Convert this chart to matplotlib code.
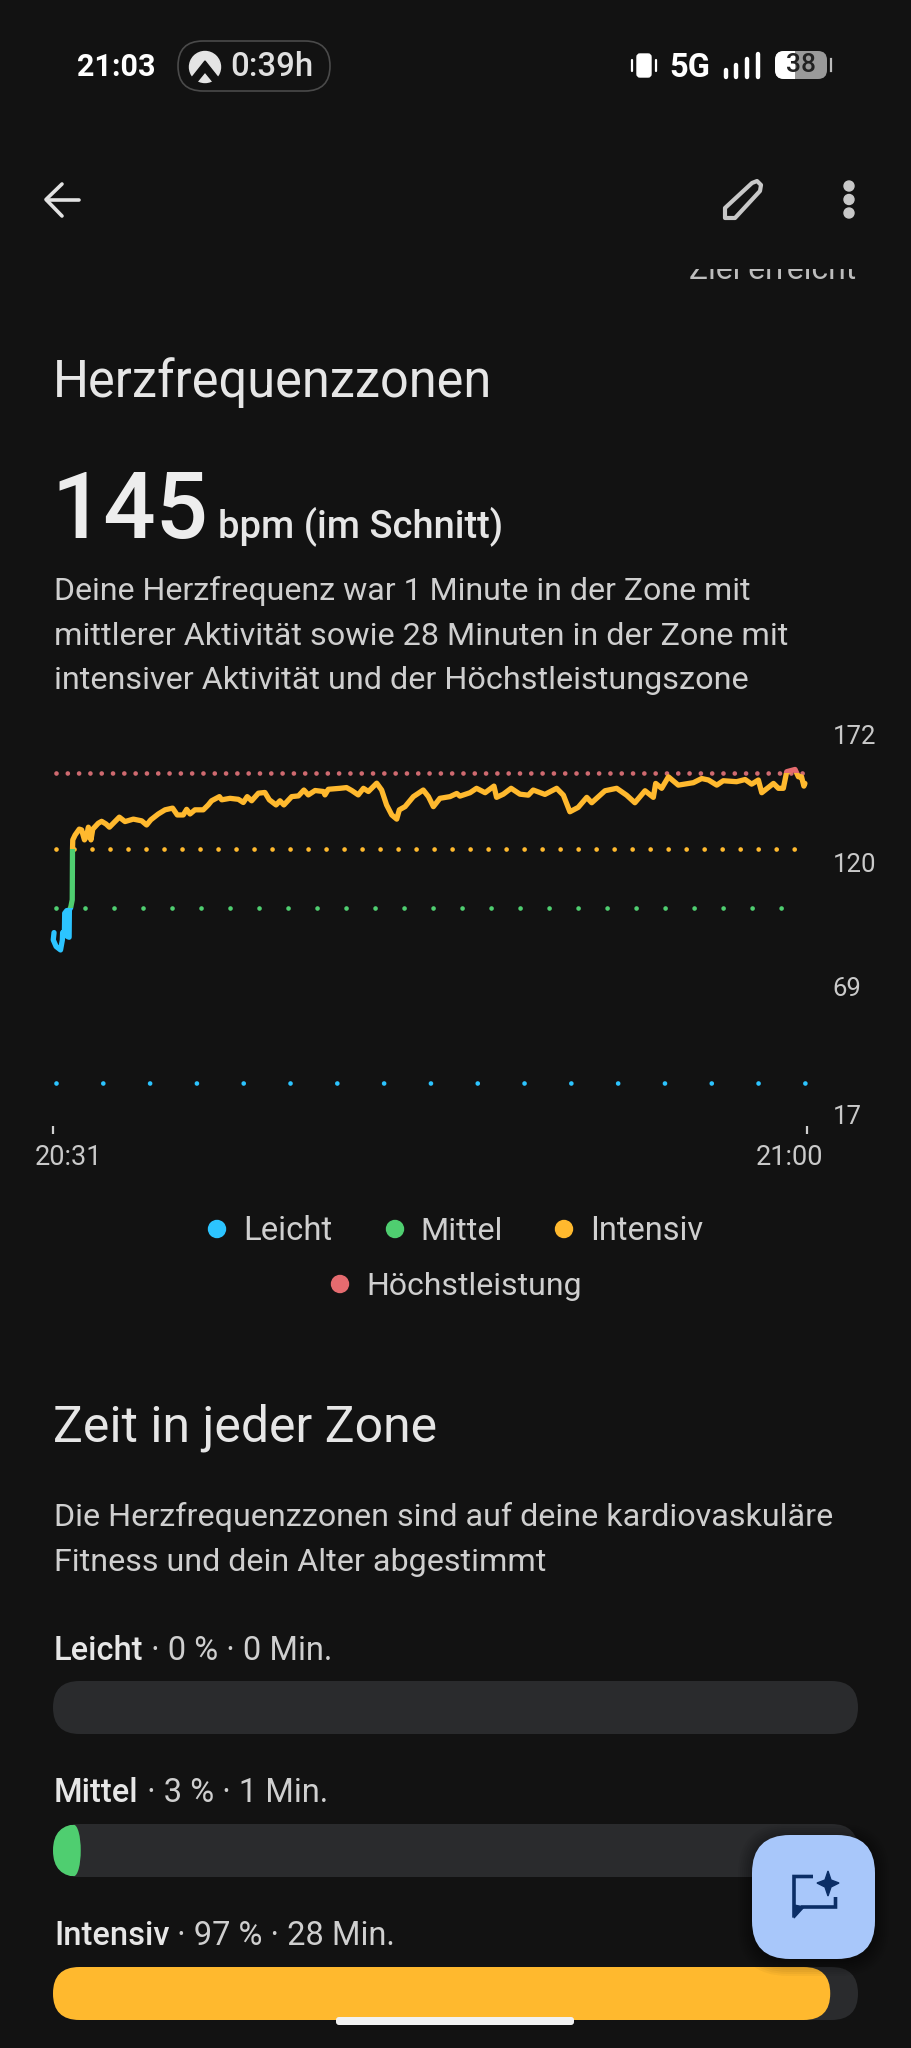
import numpy as np
import matplotlib
matplotlib.use("Agg")
import matplotlib.pyplot as plt
from matplotlib.patches import FancyBboxPatch, Rectangle, Circle, Ellipse, Polygon
from matplotlib.transforms import ScaledTranslation

plt.rcParams['font.family'] = ['Roboto', 'DejaVu Sans']

# ---------- data ----------
minutes = [.04,.01,.12,.29,.36,.37,.44,.45,.53,.55,.62,.63,.68,.74,.75,.76,.85,1.01,1.10,1.21,1.29,1.36,1.46,1.53,1.74,1.87,
           2.04,2.17,2.32,2.55,2.77,3.09,3.41,3.60,3.76,4.05,4.31,4.60,4.78,5.01,5.14,5.27,5.46,5.78,5.97,6.10,6.40,6.49,
           6.81,7.13,7.32,7.47,7.64,7.90,8.15,8.32,8.58,8.73,8.88,9.18,9.44,9.65,9.82,10.08,10.40,10.46,10.59,11.04,11.29,
           11.49,11.74,11.94,12.13,12.45,12.64,12.83,13.03,13.22,13.32,13.54,13.86,14.24,14.44,14.63,14.88,15.27,15.53,
           15.65,16.04,16.29,16.62,16.96,17.06,17.32,17.62,17.96,18.28,18.47,18.92,19.37,19.63,19.88,20.20,20.53,20.72,
           21.23,21.68,22.06,22.38,22.77,23.09,23.18,23.41,23.67,24.05,24.63,24.95,25.21,25.53,25.78,26.29,26.62,26.87,
           27.13,27.26,27.71,27.90,28.09,28.22,28.54,28.67,28.79,28.88,28.92]
bpm = [91.2,88.2,85.5,84.1,88.2,91.2,91.6,99.1,100.2,89.6,89.3,100.5,101.4,104.6,125.0,129.1,131.1,133.5,133.2,129.1,130.5,134.3,129.1,133.5,135.9,136.7,
       135.6,134.3,135.9,138.4,136.6,137.6,136.9,135.2,137.3,139.7,141.4,142.1,139.3,139.3,141.6,139.7,141.4,141.4,143.4,145.1,146.8,145.5,
       146.1,145.7,144.4,146.8,145.1,148.2,148.5,145.5,143.4,145.1,143.4,146.8,147.1,149.5,147.5,149.3,148.9,147.5,149.8,150.2,150.5,
       149.3,147.5,150.2,148.9,152.3,149.5,143.4,139.3,137.6,141.4,142.7,146.8,149.5,146.8,142.7,146.1,146.8,148.1,
       147.0,148.4,150.2,148.4,151.1,146.5,147.8,150.2,147.8,147.4,149.5,147.7,150.2,147.4,140.6,142.4,146.5,144.3,
       149.2,150.2,147.4,144.3,149.2,146.5,152.2,150.2,154.9,151.5,152.5,154.2,153.6,151.5,153.3,152.9,153.8,151.9,
       153.6,148.4,152.2,150.2,150.2,157.0,157.9,154.9,154.9,151.1,152.2]

zone_names = ['Leicht', 'Mittel', 'Intensiv', 'Höchstleistung']
zone_floor = [29.7, 101.4, 125.4, 156.4]
zone_colors = ['#2CC4FF', '#4FCE70', '#FFB92E', '#E56B6F']
zone_dot_colors = ['#2CC4FF', '#4FCE70', '#FFB92E', '#CF6A70']
zone_dot_end = [29.1, 28.4, 28.7, 28.9]
zone_dot_gap_px = [46.8, 29.0, 18.0, 11.3]

yticks = [17, 69, 120, 172]
xtick_pos = [0, 29]
xtick_labels = ['20:31', '21:00']

bar_pct = [0, 3, 97]
bar_minutes = [0, 1, 28]
total_minutes = 29

BG = '#121212'
TXT = '#E6E6E6'
TXT2 = '#CFCFCF'
W, H = 912, 2048

fig = plt.figure(figsize=(W/100, H/100), dpi=100, facecolor=BG)
rend = fig.canvas.get_renderer()

def rect_px(x0, y0, x1, y1):
    return [x0/W, 1-y1/H, (x1-x0)/W, (y1-y0)/H]

def overlay(z):
    a = fig.add_axes([0, 0, 1, 1], zorder=z)
    a.set_xlim(0, W); a.set_ylim(H, 0); a.axis('off'); a.patch.set_alpha(0)
    return a

bg = overlay(0)
top = overlay(10)

def put(a, s, x, base, size, width=None, color=TXT, weight='normal', **kw):
    t = a.text(x, base, s, fontsize=size, color=color, fontweight=weight, va='baseline', ha='left', **kw)
    if width:
        w = t.get_window_extent(rend).width
        t.set_fontsize(size*width/w)
    return t

# ---------- status bar ----------
put(bg, '21:03', 77, 76, 24, width=79, color='#FFFFFF', weight='bold')
bg.add_patch(FancyBboxPatch((178, 41), 152, 50, boxstyle='round,pad=0,rounding_size=25', fc='none', ec='#4A4A4A', lw=1.2))
bg.add_patch(Circle((205, 67), 15.5, color='#E4E4E4'))
bg.add_patch(Polygon([(205, 61), (190, 80), (196, 83), (205, 72), (214, 83), (220, 80)], closed=True, color=BG))
put(bg, '0:39h', 230, 76, 24, width=83, color='#E0E0E0', weight='medium')
bg.add_patch(FancyBboxPatch((637, 54), 14, 23, boxstyle='round,pad=0,rounding_size=3', color='#FFFFFF'))
for xv in (632, 656):
    bg.plot([xv, xv], [60, 71], color='#FFFFFF', lw=1.6, solid_capstyle='round')
put(bg, '5G', 669, 77, 25, width=41, color='#FFFFFF', weight='bold')
for xv, yv in zip((726, 736, 747, 758), (70, 65, 59, 54)):
    bg.plot([xv, xv], [yv, 77], color='#FFFFFF', lw=3.2, solid_capstyle='round')
bg.add_patch(FancyBboxPatch((775, 51), 52, 28, boxstyle='round,pad=0,rounding_size=9', fc='#9A9A9A', ec='none'))
clip_r = Rectangle((770, 45), 25, 40, transform=bg.transData)
wb = FancyBboxPatch((775, 51), 52, 28, boxstyle='round,pad=0,rounding_size=9', fc='#FFFFFF', ec='none')
bg.add_patch(wb); wb.set_clip_path(clip_r)
bg.text(801, 65.5, '38', fontsize=19, color='#222222', ha='center', va='center', fontweight='medium')
bg.plot([831.5, 831.5], [59, 71], color='#BBBBBB', lw=1.6)

# ---------- toolbar ----------
bg.plot([79, 47], [199.5, 199.5], color='#E2E2E2', lw=2.6, solid_capstyle='round')
bg.plot([62, 46, 62], [184, 199.5, 216], color='#E2E2E2', lw=2.6, solid_capstyle='round', solid_joinstyle='round')
bg.add_patch(Polygon([(725, 218), (725, 208), (752, 183), (757, 181), (761, 185), (760, 191), (735, 218)], closed=True,
                     fc='none', ec='#C8C8C8', lw=3.0, joinstyle='round'))
for yv in (186, 199.5, 213):
    bg.add_patch(Circle((849, yv), 5, color='#C8C8C8'))

# ---------- clipped scroll text ----------
t = put(bg, 'Ziel erreicht', 689, 279, 22, width=167, color='#BDBDBD')
t.set_clip_on(True)
t.set_clip_path(Rectangle((680, 268.5), 190, 30, transform=bg.transData))

# ---------- headings ----------
put(bg, 'Herzfrequenzzonen', 53, 397, 32, width=440)
put(bg, '145', 51, 538, 70, width=157, color='#EDEDED', weight='medium')
put(bg, 'bpm (im Schnitt)', 218, 537, 26, width=285, weight='medium')
put(bg, 'Deine Herzfrequenz war 1 Minute in der Zone mit', 54, 600, 22, width=696, color=TXT2)
put(bg, 'mittlerer Aktivität sowie 28 Minuten in der Zone mit', 54, 645, 22, width=733, color=TXT2)
put(bg, 'intensiver Aktivität und der Höchstleistungszone', 54, 689, 22, width=694, color=TXT2)

# ---------- heart-rate chart ----------
y_low = 12.1
ax = fig.add_axes(rect_px(53, 735, 807, 1126), zorder=3)
ax.set_xlim(0, 29); ax.set_ylim(y_low, 172)
ax.patch.set_alpha(0)
for s in ax.spines.values():
    s.set_visible(False)

for floor, col, end, gap in zip(zone_floor, zone_dot_colors, zone_dot_end, zone_dot_gap_px):
    lw = 3.4
    ax.plot([0.1, end], [floor, floor], color=col, lw=lw, dash_capstyle='round',
            linestyle=(0, (0.001, gap*0.72/lw)), zorder=2, clip_on=False)

bands = [-10] + zone_floor[1:] + [200]
for i, col in enumerate(zone_colors):
    ln, = ax.plot(minutes, bpm, color=col, lw=3.8, solid_joinstyle='round', solid_capstyle='round', zorder=3, clip_on=True)
    ln.set_clip_path(Rectangle((-1, bands[i]), 31, bands[i+1]-bands[i], transform=ax.transData))

ax.set_yticks(yticks); ax.set_yticklabels([str(v) for v in yticks])
ax.yaxis.tick_right()
ax.tick_params(axis='y', length=0, pad=18.5, labelsize=18.5, labelcolor='#C9C9C9')
ax.set_xticks(xtick_pos); ax.set_xticklabels(xtick_labels)
ax.tick_params(axis='x', length=5.8, width=1.6, color='#CFCFCF', pad=7, labelsize=19.5, labelcolor='#C9C9C9')
labs = ax.get_xticklabels()
labs[0].set_transform(labs[0].get_transform() + ScaledTranslation(15.5/100, 0, fig.dpi_scale_trans))
labs[1].set_transform(labs[1].get_transform() + ScaledTranslation(-17/100, 0, fig.dpi_scale_trans))

# ---------- zone legend ----------
legend_dot = [(217, 1229), (395, 1229), (564, 1229), (340, 1284)]
legend_txt = [(243, 1240, 89), (420, 1240, 82), (590, 1240, 113), (366, 1295, 215)]
for name, col, d, tx in zip(zone_names, zone_colors, legend_dot, legend_txt):
    bg.add_patch(Circle(d, 8.5, color=col))
    put(bg, name, tx[0], tx[1], 22, width=tx[2], color=TXT2)

# ---------- time in zone ----------
put(bg, 'Zeit in jeder Zone', 53, 1441, 32, width=384)
put(bg, 'Die Herzfrequenzzonen sind auf deine kardiovaskuläre', 54, 1526, 22, width=778, color=TXT2)
put(bg, 'Fitness und dein Alter abgestimmt', 54, 1571, 22, width=492, color=TXT2)

label_base = [1660, 1802, 1945]
bar_top = [1681, 1824, 1967]
bar_h = 53
bar_w = 805
for name, pct, mins, base, ytop, col in zip(zone_names[:3], bar_pct, bar_minutes, label_base, bar_top, zone_colors[:3]):
    t1 = put(bg, name, 54, base, 23.5, color=TXT, weight='medium')
    x2 = t1.get_window_extent(rend).x1
    bg.text(x2, base, f' · {pct} % · {mins} Min.', fontsize=23.5, color=TXT2, va='baseline', ha='left')

    a = fig.add_axes(rect_px(53, ytop, 53+bar_w, ytop+bar_h), zorder=4)
    a.set_xlim(0, total_minutes); a.set_ylim(0, 1); a.axis('off')
    rs = (bar_h/2)/bar_w*total_minutes
    asp = (1/bar_h)/(total_minutes/bar_w)
    track = FancyBboxPatch((0, 0), total_minutes, 1, boxstyle=f'round,pad=0,rounding_size={rs}', mutation_aspect=asp, fc='#2A2B2D', ec='none', clip_on=False)
    a.add_patch(track)
    if mins >= 2*rs:
        a.add_patch(FancyBboxPatch((0, 0), mins, 1, boxstyle=f'round,pad=0,rounding_size={rs}', mutation_aspect=asp, fc=col, ec='none', clip_on=False))
    elif mins > 0:
        e = Ellipse((mins-0.25, 0.5), 0.5, 0.97, fc=col, ec='none')
        r = Rectangle((0, 0.015), mins-0.25, 0.97, fc=col, ec='none')
        a.add_patch(r); a.add_patch(e)
        r.set_clip_path(track); e.set_clip_path(track)

# ---------- floating button ----------
for i in range(8):
    top.add_patch(FancyBboxPatch((752-2*i, 1835-2*i+3), 123+4*i, 124+4*i, boxstyle=f'round,pad=0,rounding_size={36+2*i}',
                                 fc='#000000', ec='none', alpha=0.035))
top.add_patch(FancyBboxPatch((752, 1835), 123, 124, boxstyle='round,pad=0,rounding_size=38', fc='#A8C7FA', ec='none'))
icon = '#0B2E66'
top.plot([813, 794, 794, 802, 835.5, 835.5], [1876.5, 1876.5, 1914, 1907, 1907, 1897], color=icon, lw=2.6,
         solid_joinstyle='miter', solid_capstyle='butt')
top.add_patch(Polygon([(794, 1905), (794, 1918), (804, 1907)], closed=True, color=icon))
top.add_patch(Polygon([(828, 1871), (831, 1880), (839, 1883), (831, 1887), (828, 1896), (825, 1887), (817, 1883), (825, 1880)], closed=True, color=icon))

# ---------- home indicator ----------
top.add_patch(FancyBboxPatch((336, 2017), 238, 8, boxstyle='round,pad=0,rounding_size=3', fc='#F2F2F2', ec='none'))

fig.savefig('out.png', dpi=100, facecolor=BG)
